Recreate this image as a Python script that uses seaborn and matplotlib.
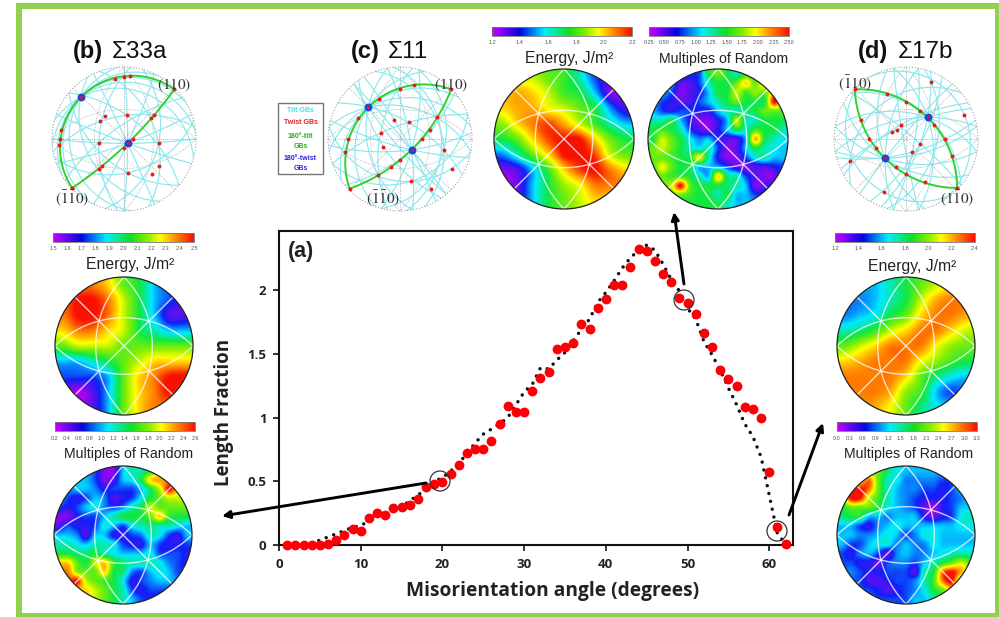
#!/usr/bin/python3
import seaborn as sns
import pandas as pd
import matplotlib.pyplot as plt
from matplotlib.colors import LinearSegmentedColormap
from matplotlib.patches import Circle, Rectangle
import numpy as np

# main curve
angle = list(range(1, 63))
length_fraction = [0, 0, 0, 0, 0, 0.01, 0.04, 0.08, 0.13, 0.115, 0.215, 0.25, 0.235, 0.29, 0.30, 0.315,
                   0.36, 0.46, 0.48, 0.495, 0.555, 0.625, 0.725, 0.755, 0.75, 0.82, 0.95, 1.09, 1.04, 1.045,
                   1.21, 1.31, 1.36, 1.54, 1.555, 1.58, 1.735, 1.695, 1.86, 1.925, 2.04, 2.04, 2.175, 2.32,
                   2.305, 2.225, 2.12, 2.06, 1.935, 1.90, 1.81, 1.66, 1.55, 1.37, 1.30, 1.25, 1.08, 1.065,
                   0.995, 0.575, 0.14, 0.01]
fit_fraction = [0, 0, 0.005, 0.02, 0.04, 0.065, 0.09, 0.115, 0.14, 0.155, 0.19, 0.23, 0.255, 0.28, 0.30, 0.35,
                0.39, 0.45, 0.50, 0.53, 0.58, 0.64, 0.72, 0.80, 0.87, 0.91, 0.95, 1.00, 1.10, 1.20,
                1.26, 1.39, 1.38, 1.45, 1.51, 1.60, 1.69, 1.77, 1.90, 1.98, 2.07, 2.17, 2.25, 2.31,
                2.35, 2.31, 2.2, 2.08, 1.99, 1.855, 1.77, 1.595, 1.49, 1.37, 1.23, 1.10, 0.95, 0.85,
                0.69, 0.39, 0.09, 0.01]

# colour maps of the discs, 0 (purple) to 10 (red)
energy_b = [[9, 9, 9, 8, 6, 5, 3, 2, 1], [9, 10, 10, 9, 7, 5, 3, 2, 1], [9, 10, 10, 9, 7, 5, 3, 1, 1],
            [8, 9, 9, 8, 7, 5, 4, 3, 3], [6, 7, 7, 7, 6, 6, 6, 6, 6], [3, 3, 4, 5, 6, 7, 8, 8, 8],
            [2, 2, 2, 3, 6, 8, 9, 10, 10], [1, 0, 1, 3, 6, 8, 9, 10, 9], [1, 0, 1, 3, 6, 8, 9, 9, 9]]
energy_c = [[7, 7, 7, 6, 5.5, 4, 2, 1, 1], [8, 8.5, 8, 7, 5.5, 5, 3, .5, .5], [8, 8.5, 8.5, 7.5, 7, 6, 5, 2.5, 1],
            [6.5, 8, 9, 9.5, 8.5, 7, 5.5, 4, 3], [5, 6, 8, 9.5, 10, 10, 8, 6, 5], [2.5, 4, 6, 8, 10, 10, 9.5, 7, 6],
            [.5, 1, 3, 5.5, 8, 9.5, 10, 9, 8], [0, .8, 3, 5, 6.5, 7.5, 9, 9, 9], [0, 1, 3, 5, 6, 7, 8, 8, 8]]
energy_d = [[4, 3, 3, 4, 5, 6, 7, 8, 8], [2.5, 2.5, 3, 4, 5, 7, 8.5, 9, 9], [2.5, 3, 3.5, 5, 6, 8, 9, 9, 8.5],
            [4, 4.5, 5.5, 7, 8, 9, 9, 8, 7], [6, 7, 8, 9, 9, 9, 7.5, 6.5, 6], [8, 8.5, 9, 9, 9, 7.5, 6.5, 5.5, 5],
            [9, 9, 9, 9, 8, 6, 4.5, 3.5, 3], [9, 9, 9, 8.5, 6.5, 5.5, 3, 2, 2.5], [9, 9, 8.5, 7.5, 6, 4.5, 3.5, 3, 3]]
mrd_b = [[3, 3, 3, 3, 2, .5, .5, 3, 4, 4, 5, 7, 8, 8, 8],
         [3, 3, 3, 3, 2, .5, 1, 3, 3.5, 5, 8, 8.5, 8.5, 8, 8],
         [3, 2.5, 3, 3, 2.5, 1.5, 2, 2, 2, 3, 5, 7, 10, 8, 7],
         [3, 2, 1.5, 2, 3, 2.5, 1, 1.5, 2, 3.5, 5, 6, 7, 7, 7],
         [2, 1.5, 2, 3, 3.5, 2.5, 2, 2.5, 4, 5, 7, 6, 6, 6, 6],
         [.5, .5, 1.5, 2, 2, 3, 4, 5, 5, 5, 6, 8, 5.5, 5, 5],
         [1, 2, 1.5, 1.5, 2, 3.5, 3, 2, 3.5, 4, 4.5, 4, 4, 3.5, 3],
         [3, 3, 2.5, 1, 3, 3, 1.5, 1.5, 2, 2.5, 4, 3.5, 2, 1.5, 3],
         [4, 4, 3.5, 3, 4, 4, 3.5, 2, 1.5, 1.5, 3, 2, 1.5, 1.5, 2],
         [5, 5, 4.5, 4.5, 5, 4, 3.5, 3, 3, 3, 3.5, 2, 2, 2, 1.5],
         [8, 8, 6, 5, 7, 8, 5.5, 4.5, 4, 4, 4, 3.5, 2.5, 2, 1.5],
         [8, 9, 6.5, 6, 6, 8, 5, 4.5, 2.5, 2, 3, 3.5, 3, 2, 2],
         [8, 9, 10, 7, 6, 5.5, 5, 3.5, 1.5, 2, 2.5, 3, 3, 2.5, 2],
         [8, 8, 8, 8, 7, 6, 5, 4, 2, 1.5, 2, 2, 2, 2, 2],
         [8, 8, 8, 8, 7, 6, 5, 4, 3, 2, 1.5, 1.5, 2, 2, 2]]
mrd_c = [[3, 3, 3, 3, 2, 2, 5, 6, 5, 4, 5, 5, 5, 5, 5],
         [3, 3, 3, 1, 1, 2, 4, 5, 5, 6, 8, 6, 8, 6, 6],
         [3, 3, 2, .5, 1, 1.5, 3, 5, 5, 7, 5.5, 6.5, 6, 8, 7],
         [3, 2, 1.5, 1, 1, 2, 3, 4, 5, 6, 5, 5, 5, 10, 7],
         [3, 2, 1.5, 2, 2, 1.5, 1.5, 3, 4, 4, 4.5, 5, 6, 6, 6],
         [4, 4, 5, 3, 1.5, .5, .5, 1.5, 3, 7, 4, 4, 5, 5, 5],
         [5, 5.5, 5, 4, 2, 1, .5, 1.5, 3, 5, 4, 5.5, 5, 5, 4],
         [5, 7, 6, 5, 3.5, 2.5, 3, 1.5, 1, 1, 3, 8.5, 5, 4, 3.5],
         [6, 7, 6, 5, 4, 3.5, 4, 2, .5, 1, 3, 5, 4, 3.5, 3],
         [6, 6, 5.5, 5, 5, 7.5, 4, 1.5, .5, .5, 2, 3.5, 4, 3, 3],
         [5.5, 7.5, 6, 5, 5, 3, 3, 3, 2, 1, .5, 1, 1, 1.5, 2],
         [5, 6, 5.5, 5.5, 5, 4, 3, 8, 4.5, 4, 2, 1, .5, .5, 3],
         [5, 6, 7, 10, 6, 5, 5, 5, 4.5, 4, 3, .5, 1, 2, 3],
         [5, 5, 6, 6, 5.5, 5, 5, 4, 5, 3, 3, 2, 2, 3, 3],
         [5, 5, 5, 5, 5, 5, 5, 5, 4, 3, 3, 3, 3, 3, 3]]
mrd_d = [[3, 3, 3, 5, 6, 4.5, 3.5, 3, 3, 3, 3, 3, 3, 3, 3],
         [4, 5, 7, 9, 6, 4, 3.5, 2.5, 2.5, 2.5, 2.5, 2, 2, 3, 3],
         [6, 9, 10, 9, 6, 4, 3, 2.5, 2.5, 2, 2, 1.5, 2, 3, 3],
         [6, 10, 10, 7, 5.5, 4, 3, 2.5, 2, 1.5, 1.5, 1.5, 2, 2.5, 3],
         [5, 6, 6, 6, 5, 3.5, 3, 2.5, 2, .8, .2, 1.5, 2, 3, 3],
         [4.5, 5, 5, 3, 3, 2.5, 3, 3, 3, 1.5, .8, 1.5, 2, 3.5, 4],
         [3, 3, 2, 1.5, 2.5, 3, 3.5, 3, 3, 3, 3, 3, 3, 3.5, 3.5],
         [3, 3, 2.5, 2.5, 3, 3.5, 3, 2, 2.5, 3.5, 3.5, 3, 3, 3, 3],
         [3, 2, 2, 3, 3.5, 3.5, 2.5, 3, 2.5, 2.5, 3.5, 3, 3, 3, 3],
         [2, 1.5, 2.5, 3, 2, .8, 2.5, 3, 2.5, 2.5, 3, 3.5, 4, 4, 4],
         [2, 2, 1.5, 1.5, .8, 2, 2.5, 2.5, 2, 3, 4, 5, 6, 7, 6],
         [2, 2.5, 2, 1.5, 1.5, 2, 2, 2, 1, 4, 5, 9, 10, 8.5, 7],
         [2, 2, 2, 1, 1, 1.5, 2, 2, 2.5, 4, 5.5, 9, 10, 6, 6],
         [2, 2, 2, 2, 1.5, 1, 1.5, 2, 2.5, 3.5, 5, 6, 8, 6, 6],
         [2, 2, 2, 2, 2, 2, 2, 2, 3, 3, 4, 5, 6, 6, 6]]

# stereograms, unit disc coordinates
red_b = [(-.13, .84), (0, .86), (.09, .87), (.70, .69), (.42, .34), (.38, .29), (.04, .33), (-.26, .32), (-.34, .25),
         (-.87, .12), (-.89, 0), (-.90, -.09), (-.35, -.05), (.12, 0), (.48, -.06), (0, -.12), (-.30, -.37),
         (-.35, -.42), (.49, -.38), (.39, -.48), (.05, -.47), (-.72, -.68)]
blue_b = [(-.60, .58), (.05, -.06)]
red_c = [(.71, .69), (.19, .75), (0, .70), (-.29, .56), (-.58, .29), (-.72, 0), (-.76, -.18), (-.70, -.69),
         (-.31, -.50), (-.13, -.39), (0, -.29), (.30, 0), (.41, .13), (.52, .31), (-.09, .27), (.12, .23),
         (-.27, .09), (-.23, -.11), (.61, -.15), (.72, -.42), (.15, -.59), (.43, -.70)]
blue_c = [(-.44, .44), (.16, -.15)]
red_d = [(-.71, .69), (-.26, .63), (0, .52), (.19, .39), (.39, .20), (.54, 0), (.64, -.24), (.71, -.68), (.27, -.60),
         (0, -.48), (-.14, -.39), (-.41, -.125), (-.51, 0), (-.63, .27), (.35, .79), (.81, .34), (-.07, .20),
         (-.13, .13), (-.19, .10), (.20, -.065), (.09, -.18), (-.78, -.30), (-.31, -.74)]
blue_d = [(.30, .30), (-.29, -.27)]

# tilt lines: point on the line, rim azimuth in degrees
tilt_b = [(blue_b[1], a) for a in (0, 20, 65, 90, 115, 160)] + [(blue_b[0], a) for a in (5, 30, 62, 95, 120, 165)] + \
         [((.48, -.06), 75), ((.48, -.06), 110), ((-.35, -.05), 85), ((-.35, -.05), 35), ((.05, -.47), 140), ((.04, .33), 140),
          ((.04, .33), 10), ((.05, -.47), 15)]
tilt_c = [(blue_c[1], a) for a in (5, 40, 75, 100, 130, 165)] + [(blue_c[0], a) for a in (10, 35, 70, 100, 130, 170)] + \
         [((.61, -.15), 75), ((.61, -.15), 110), ((-.27, .09), 80), ((.12, .23), 20), ((.12, .23), 150), ((.15, -.59), 170),
          ((.15, -.59), 20), ((.43, -.70), 120), ((-.23, -.11), 125), ((.52, .31), 95)]
tilt_d = [(blue_d[1], a) for a in (10, 50, 80, 105, 150, 170)] + [(blue_d[0], a) for a in (10, 25, 70, 100, 140, 170)] + \
         [((.35, .79), 75), ((-.07, .20), 100), ((-.07, .20), 30), ((.20, -.065), 60), ((.20, -.065), 140), ((-.78, -.30), 40),
          ((.81, .34), 120), ((-.31, -.74), 130), ((.09, -.18), 15), ((.09, -.18), 80)]

bar_map = LinearSegmentedColormap.from_list("bar_map", [(0, "#c800ff"), (.2, "#0008e0"), (.38, "#00f0ff"), (.55, "#10e020"),
                                                        (.68, "#90f000"), (.76, "#ffff00"), (.88, "#ff8000"), (1, "#f81000")])
rainbow = LinearSegmentedColormap.from_list("rainbow_mrd", [(0, "#b000f0"), (.08, "#6010f0"), (.17, "#1020f8"), (.33, "#00e8ff"),
                                                            (.5, "#10e840"), (.65, "#90f000"), (.76, "#ffff00"), (.9, "#ff8000"),
                                                            (1, "#f81000")])

sns.set_theme(style="white")
plt.rcParams['font.family'] = ['Liberation Sans', 'DejaVu Sans']
plt.rcParams['mathtext.fontset'] = 'stix'
W, H = 999, 617
fig = plt.figure(figsize=(W / 100, H / 100), dpi=100)

# main panel
ax = fig.add_axes([279 / W, 1 - 545.3 / H, (793 - 279) / W, (545.3 - 231) / H])
df = pd.DataFrame({"angle": angle, "fraction": length_fraction, "fit": fit_fraction})
sns.lineplot(x="angle", y="fit", data=df, ax=ax, color="#111111", lw=2.5, linestyle=(0, (0.01, 2.3)),
             dash_capstyle="round", zorder=2, clip_on=False)
sns.scatterplot(x="angle", y="fraction", data=df, ax=ax, color="#fb0006", s=50, linewidth=0, zorder=3, clip_on=False)
ax.set_xlim(0, 62.9)
ax.set_ylim(0, 2.46)
ax.set_xticks([0, 10, 20, 30, 40, 50, 60])
ax.set_yticks([0, 0.5, 1, 1.5, 2])
ax.set_yticklabels(["0", "0.5", "1", "1.5", "2"])
ax.tick_params(left=True, bottom=True, length=4, width=1.2, color="#111111", pad=5)
for lab in ax.get_xticklabels() + ax.get_yticklabels():
    lab.set_family("Open Sans")
    lab.set_weight("bold")
    lab.set_size(9.5)
    lab.set_color("#222222")
for s in ax.spines.values():
    s.set_linewidth(1.5)
    s.set_color("#111111")
ax.set_xlabel("")
ax.set_ylabel("")

# overlay in picture pixels
ov = fig.add_axes([0, 0, 1, 1], zorder=5)
ov.set_xlim(0, W)
ov.set_ylim(H, 0)
ov.axis("off")
ov.patch.set_alpha(0)

for rect in [(16, 3, 6, 614), (16, 3, 983, 6), (16, 613, 983, 4), (995, 3, 4, 614)]:
    ov.add_patch(Rectangle(rect[:2], rect[2], rect[3], color="#92d14f", lw=0))


def circle_through(p, az):
    # great circle through p with rim ends at azimuth az
    a = np.radians(az)
    u = np.array([np.cos(a), np.sin(a)])
    v = np.array([-u[1], u[0]])
    x, y = np.dot(p, u), np.dot(p, v)
    if abs(y) < 1e-3:
        return None
    c = (x * x + y * y - 1) / (2 * y)
    return c * v, np.sqrt(1 + c * c)


def net_lines(cx, cy, r, clip, color, lw, ls="-", alpha=1):
    # the four bulged great circles and two diagonals
    for az, h in [(0, .41), (0, -.41), (90, .41), (90, -.41)]:
        a = np.radians(az)
        p = np.array([-np.sin(a) * h, np.cos(a) * h])
        c, rad = circle_through(p, az)
        art = Circle((cx + r * c[0], cy - r * c[1]), r * rad, fill=False, ec=color, lw=lw, ls=ls, alpha=alpha)
        ov.add_patch(art)
        art.set_clip_path(clip)
    for sgn in (1, -1):
        art, = ov.plot([cx - r, cx + r], [cy + sgn * r, cy - sgn * r], color=color, lw=lw, ls=ls, alpha=alpha)
        art.set_clip_path(clip)


def disc(cx, cy, r, values):
    clip = Circle((cx, cy), r, transform=ov.transData)
    im = ov.imshow(values, cmap=rainbow, vmin=0, vmax=10, interpolation="catrom",
                   extent=(cx - r, cx + r, cy + r, cy - r), zorder=1, aspect="auto")
    im.set_clip_path(clip)
    net_lines(cx, cy, r, clip, "white", 1.0, alpha=.75)
    ov.add_patch(Circle((cx, cy), r, fill=False, ec="#222222", lw=.9, zorder=3))


def colorbar(x0, x1, y0, y1, labels, ty):
    ov.imshow(np.linspace(0, 10, 256)[None, :], cmap=bar_map, vmin=0, vmax=10, aspect="auto",
              extent=(x0, x1, y1, y0), zorder=1)
    ov.add_patch(Rectangle((x0, y0), x1 - x0, y1 - y0, fill=False, ec="#777777", lw=.6, zorder=2))
    for i, lab in enumerate(labels):
        ov.text(x0 + (x1 - x0) * i / (len(labels) - 1), ty, lab, ha="center", va="center", fontsize=4, color="#555555")


def green_arc(p0, p, p1):
    a = np.array([[2 * (p[0] - p0[0]), 2 * (p[1] - p0[1])], [2 * (p1[0] - p0[0]), 2 * (p1[1] - p0[1])]])
    b = np.array([p[0] ** 2 + p[1] ** 2 - p0[0] ** 2 - p0[1] ** 2, p1[0] ** 2 + p1[1] ** 2 - p0[0] ** 2 - p0[1] ** 2])
    c = np.linalg.solve(a, b)
    r = np.hypot(*(np.array(p0) - c))
    t0, tm, t1 = [np.arctan2(q[1] - c[1], q[0] - c[0]) for q in (p0, p, p1)]
    t1 = t0 + (t1 - t0) % (2 * np.pi)
    tm = t0 + (tm - t0) % (2 * np.pi)
    if tm > t1:
        t1 -= 2 * np.pi
    t = np.linspace(t0, t1, 80)
    return c[0] + r * np.cos(t), c[1] + r * np.sin(t)


def stereo(cx, cy, r, red, blue, tilt, ends):
    clip = Circle((cx, cy), r, transform=ov.transData)
    for p, az in tilt:
        res = circle_through(np.array(p), az)
        if res is None:
            a = np.radians(az)
            art, = ov.plot([cx - r * np.cos(a), cx + r * np.cos(a)], [cy + r * np.sin(a), cy - r * np.sin(a)],
                           color="#8ce8ec", lw=.85, zorder=2)
        else:
            c, rad = res
            art = Circle((cx + r * c[0], cy - r * c[1]), r * rad, fill=False, ec="#8ce8ec", lw=.85, zorder=2)
            ov.add_patch(art)
        art.set_clip_path(clip)
    ov.plot([cx - r, cx + r], [cy, cy], color="#99a", lw=.6, ls=":", zorder=2)
    ov.plot([cx, cx], [cy - r, cy + r], color="#99a", lw=.6, ls=":", zorder=2)
    net_lines(cx, cy, r, clip, "#a0a0a0", .6, ":")
    ov.add_patch(Circle((cx, cy), r, fill=False, ec="#a0a0a0", lw=.8, ls=":", zorder=2))
    for b in blue:
        x, y = green_arc(ends[0], b, ends[1])
        ov.plot(cx + r * x, cy - r * y, color="#30d030", lw=1.4, zorder=3)
    ov.scatter([cx + r * p[0] for p in red], [cy - r * p[1] for p in red], s=8, color="#e81c1c", lw=0, zorder=4)
    ov.scatter([cx + r * p[0] for p in blue], [cy - r * p[1] for p in blue], s=32, color="#2040e0", lw=0, zorder=4)
    ov.scatter([cx + r * p[0] for p in blue], [cy - r * p[1] for p in blue], s=6, color="#c02040", lw=0, zorder=5)


disc(124, 346, 69, energy_b)
disc(123, 535, 69, mrd_b)
disc(564, 139, 70, energy_c)
disc(718, 139, 70, mrd_c)
disc(906, 346, 69, energy_d)
disc(906, 535, 69, mrd_d)

colorbar(53, 194, 233, 242, ["1.5", "1.6", "1.7", "1.8", "1.9", "2.0", "2.1", "2.2", "2.3", "2.4", "2.5"], 249)
colorbar(55, 195, 422, 431, ["0.2", "0.4", "0.6", "0.8", "1.0", "1.2", "1.4", "1.6", "1.8", "2.0", "2.2", "2.4", "2.6"], 438)
colorbar(492, 632, 27, 36, ["1.2", "1.4", "1.6", "1.8", "2.0", "2.2"], 43)
colorbar(649, 789, 27, 36, ["0.25", "0.50", "0.75", "1.00", "1.25", "1.50", "1.75", "2.00", "2.25", "2.50"], 43)
colorbar(835, 975, 233, 242, ["1.2", "1.4", "1.6", "1.8", "2.0", "2.2", "2.4"], 249)
colorbar(837, 977, 422, 431, ["0.0", "0.3", "0.6", "0.9", "1.2", "1.5", "1.8", "2.1", "2.4", "2.7", "3.0", "3.3"], 438)

for x, y in [(130, 265), (569, 59), (912, 266)]:
    ov.text(x, y, "Energy, J/m²", ha="center", va="center", fontsize=11.3, color="#222222")
for x, y in [(129, 454), (724, 59), (909, 454)]:
    ov.text(x, y, "Multiples of Random", ha="center", va="center", fontsize=10.2, color="#222222")

stereo(124, 139, 72, red_b, blue_b, tilt_b, [(.70, .69), (-.72, -.68)])
stereo(400, 139, 72, red_c, blue_c, tilt_c, [(.71, .69), (-.70, -.69)])
stereo(906, 139, 72, red_d, blue_d, tilt_d, [(-.71, .69), (.71, -.68)])

for x, y, s in [(174, 85, r"$(110)$"), (72, 199, r"$(\bar{1}\bar{1}0)$"),
                (451, 85, r"$(110)$"), (383, 199, r"$(\bar{1}\bar{1}0)$"),
                (855, 84, r"$(\bar{1}10)$"), (957, 199, r"$(1\bar{1}0)$")]:
    ov.text(x, y, s, ha="center", va="center", fontsize=11, color="#333333", zorder=6)

# panel titles
for xb, xs, lab, sig in [(73, 112, "(b)", "Σ33a"), (351, 388, "(c)", "Σ11"), (858, 898, "(d)", "Σ17b")]:
    ov.text(xb, 58, lab, ha="left", va="baseline", fontsize=17, fontweight="bold", color="#111111")
    ov.text(xs, 58, sig, ha="left", va="baseline", fontsize=17.5, color="#111111")

# key
ov.add_patch(Rectangle((278, 103), 45, 71, fill=False, ec="#777777", lw=1))
for y, s, col in [(111, "Tilt GBs", "#40e0e8"), (123, "Twist GBs", "#e02020"), (137, "180°-tilt", "#20b020"),
                  (146, "GBs", "#20b020"), (159, "180°-twist", "#3020e0"), (168, "GBs", "#3020e0")]:
    ov.text(300.5, y, s, ha="center", va="center", fontsize=5, fontweight="bold", color=col)

# axis titles and arrows
ov.text(288, 251, "(a)", ha="left", va="center", fontsize=15.5, fontweight="bold", color="#222222")
ov.text(553, 591, "Misorientation angle (degrees)", ha="center", va="center", fontsize=13.8, family="Open Sans",
        fontweight="bold", color="#222222")
ov.text(224, 412, "Length Fraction", ha="center", va="center", rotation=90, fontsize=13.5, family="Open Sans",
        fontweight="bold", color="#222222")
for tail, tip in [((426, 483), (222, 516)), ((684, 284), (674, 212)), ((789, 515), (823, 423))]:
    ov.annotate("", xy=tip, xytext=tail, arrowprops=dict(arrowstyle="-|>", color="black", lw=2.1, mutation_scale=11,
                                                         shrinkA=0, shrinkB=0))
for c in [(440, 481), (684, 300), (777, 531)]:
    ov.add_patch(Circle(c, 10, fill=False, ec="#333333", lw=.9))

plt.savefig('out.png', dpi=100)
